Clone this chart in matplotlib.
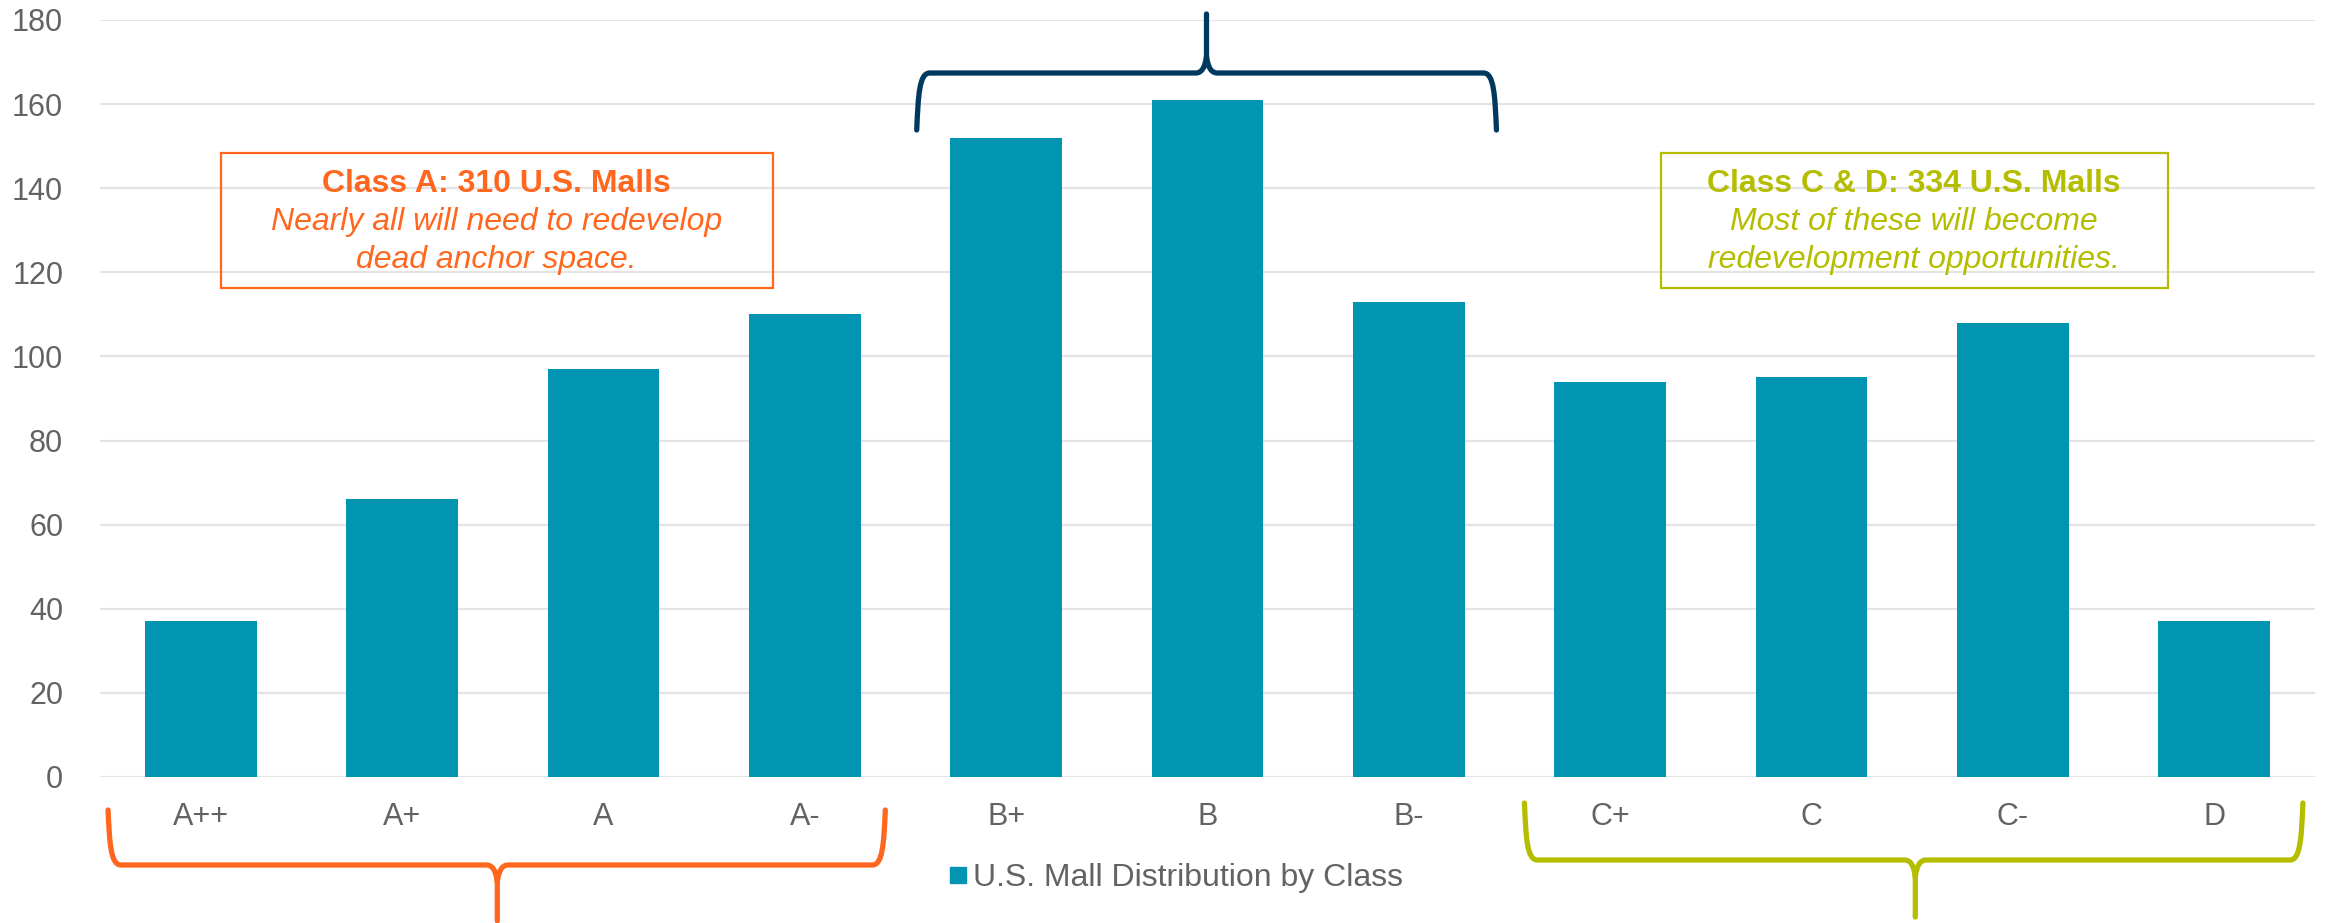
import matplotlib
matplotlib.use("Agg")
import matplotlib.pyplot as plt
from matplotlib.path import Path
from matplotlib.patches import PathPatch, Rectangle
from matplotlib.lines import Line2D
from matplotlib.transforms import IdentityTransform

# ---- data -------------------------------------------------------------
classes = ["A++", "A+", "A", "A-", "B+", "B", "B-", "C+", "C", "C-", "D"]
mall_counts = [37, 66, 97, 110, 152, 161, 113, 94, 95, 108, 37]
series_name = "U.S. Mall Distribution by Class"
y_ticks = [0, 20, 40, 60, 80, 100, 120, 140, 160, 180]

class_a_title = "Class A: 310 U.S. Malls"
class_a_note = ["Nearly all will need to redevelop", "dead anchor space."]
class_cd_title = "Class C & D: 334 U.S. Malls"
class_cd_note = ["Most of these will become", "redevelopment opportunities."]

# ---- style ------------------------------------------------------------
BAR = "#0194B3"
ORANGE = "#FF671F"
OLIVE = "#B5BD00"
NAVY = "#00395F"
TEXT = "#636363"
GRID = "#E4E4E4"
FONT = ["Liberation Sans", "DejaVu Sans"]

plt.rcParams["font.family"] = FONT

W, H, DPI = 2325, 923, 100
fig = plt.figure(figsize=(W / DPI, H / DPI), dpi=DPI)
fig.patch.set_facecolor("white")

ax_l, ax_r, ax_t, ax_b = 100, 2315, 20, 777
ax = fig.add_axes([ax_l / W, 1 - ax_b / H, (ax_r - ax_l) / W, (ax_b - ax_t) / H])

x = list(range(len(classes)))
ax.bar(x, mall_counts, width=0.555, color=BAR, zorder=3)

ax.set_xlim(-0.5, len(classes) - 0.5)
ax.set_ylim(0, 180)
ax.set_yticks(y_ticks)
ax.set_xticks(x)
ax.set_xticklabels(classes)
ax.yaxis.grid(True, color=GRID, linewidth=1.6, zorder=0)
ax.set_axisbelow(True)
for s in ax.spines.values():
    s.set_visible(False)
ax.tick_params(axis="y", length=0, pad=26.5, labelsize=22, labelcolor=TEXT)
ax.tick_params(axis="x", length=0, pad=18, labelsize=22, labelcolor=TEXT)

# ---- annotation boxes ---------------------------------------------------
def note_box(x0, x1, y0, y1, color, title, lines):
    ax.add_patch(Rectangle((x0, y0), x1 - x0, y1 - y0, fill=False,
                           edgecolor=color, linewidth=1.6, zorder=4))
    xc = (x0 + x1) / 2
    ax.text(xc, 141.0, title, ha="center", va="center", color=color,
            fontsize=23, fontweight="bold", zorder=5)
    for yy, ln in zip([131.9, 122.9], lines):
        ax.text(xc, yy, ln, ha="center", va="center", color=color,
                fontsize=23, fontstyle="italic", zorder=5)

note_box(0.10, 2.84, 116.3, 148.4, ORANGE, class_a_title, class_a_note)
note_box(7.25, 9.77, 116.3, 148.4, OLIVE, class_cd_title, class_cd_note)

# ---- curly braces grouping the classes ----------------------------------
fig.canvas.draw()

def to_px(xd):
    # data x -> figure pixel x
    return ax.transData.transform((xd, 0))[0]

def brace(x0, x1, xc, y_end, y_bar, y_tip, color):
    """Brace in pixel space (y measured from figure top)."""
    X0, X1, XC = to_px(x0), to_px(x1), to_px(xc)
    d = 1 if y_tip > y_bar else -1  # direction from bar toward tip (top-down)
    def P(px, py):
        return (px, H - py)
    verts = [
        P(X0, y_end),
        P(X0 + 1.5, y_bar - 22 * d), P(X0 + 2.5, y_bar), P(X0 + 13, y_bar),
        P(XC - 11, y_bar),
        P(XC - 5, y_bar), P(XC - 1.5, y_bar + 5 * d), P(XC, y_bar + 17 * d),
        P(XC, y_tip),
        P(XC, y_bar + 17 * d),
        P(XC + 1.5, y_bar + 5 * d), P(XC + 5, y_bar), P(XC + 11, y_bar),
        P(X1 - 13, y_bar),
        P(X1 - 2.5, y_bar), P(X1 - 1.5, y_bar - 22 * d), P(X1, y_end),
    ]
    codes = [Path.MOVETO,
             Path.CURVE4, Path.CURVE4, Path.CURVE4,
             Path.LINETO,
             Path.CURVE4, Path.CURVE4, Path.CURVE4,
             Path.LINETO,
             Path.MOVETO,
             Path.CURVE4, Path.CURVE4, Path.CURVE4,
             Path.LINETO,
             Path.CURVE4, Path.CURVE4, Path.CURVE4]
    patch = PathPatch(Path(verts, codes), fill=False, edgecolor=color,
                      linewidth=3.8, capstyle="round", joinstyle="round",
                      transform=IdentityTransform(), zorder=6)
    fig.add_artist(patch)

brace(-0.46, 3.40, 1.473, 810, 865, 921, ORANGE)
brace(3.556, 6.435, 4.995, 130, 73, 14, NAVY)
brace(6.574, 10.44, 8.515, 803, 860, 917, OLIVE)

# ---- legend -------------------------------------------------------------
handle = Line2D([], [], marker="s", linestyle="", color=BAR, markersize=11.5)
fig.legend([handle], [series_name], loc="center left",
           bbox_to_anchor=(950 / W, 1 - 878 / H), frameon=False,
           fontsize=23, labelcolor=TEXT, handlelength=0.5,
           handletextpad=0.22, borderpad=0, borderaxespad=0)

fig.savefig("out.png", dpi=DPI, facecolor="white")
